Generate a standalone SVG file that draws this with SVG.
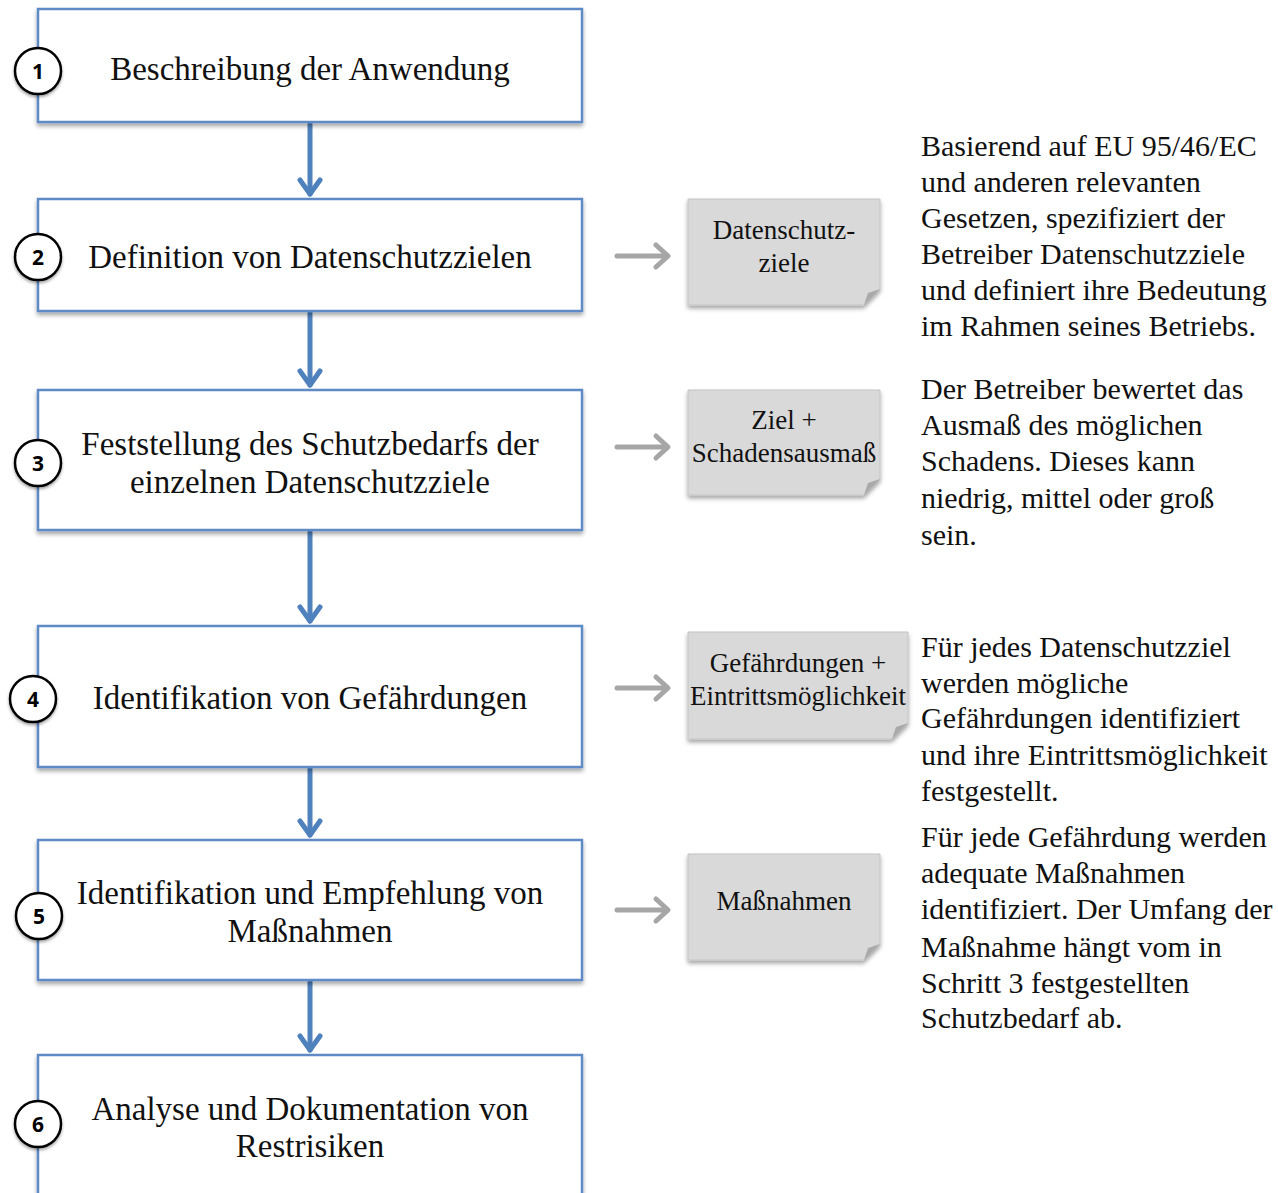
<svg xmlns="http://www.w3.org/2000/svg" width="1278" height="1193" viewBox="0 0 1278 1193">
  <defs>
    <filter id="shadow" x="-10%" y="-10%" width="120%" height="130%">
      <feDropShadow dx="0" dy="3" stdDeviation="2" flood-color="#000" flood-opacity="0.35"/>
    </filter>
    <filter id="cshadow" x="-30%" y="-30%" width="160%" height="170%">
      <feDropShadow dx="0" dy="2" stdDeviation="1.5" flood-color="#000" flood-opacity="0.35"/>
    </filter>
  </defs>
  <style>
    .step { fill: #ffffff; stroke: #5f8ac6; stroke-width: 2.5; filter: url(#shadow); }
    .badge { fill: #ffffff; stroke: #000000; stroke-width: 2.5; filter: url(#cshadow); }
    .num { font-family: "Open Sans", "Liberation Sans", sans-serif; font-weight: bold; font-size: 21px; fill: #000; text-anchor: middle; }
    .title { font-family: "Liberation Serif", "Times New Roman", serif; font-size: 33px; fill: #111; text-anchor: middle; }
    .note { fill: #d9d9d9; stroke: #c4c4c4; stroke-width: 1; filter: url(#shadow); }
    .fold { fill: #a9a9a9; }
    .ntext { font-family: "Liberation Serif", "Times New Roman", serif; font-size: 27px; fill: #111; text-anchor: middle; }
    .desc { font-family: "Liberation Serif", "Times New Roman", serif; font-size: 30px; fill: #111; }
    .flow { fill: none; stroke: #4f81bd; stroke-width: 5; stroke-linecap: round; stroke-linejoin: round; }
    .side { fill: none; stroke: #a6a6a6; stroke-width: 5; stroke-linecap: round; stroke-linejoin: round; }
  </style>

  <rect width="1278" height="1193" fill="#ffffff"/>

  <!-- flow connectors between steps -->
  <g id="connectors">
    <line class="flow" x1="310" y1="124" x2="310" y2="194"/>
    <polyline class="flow" points="300,180 310,194 320,180"/>
    <line class="flow" x1="310" y1="313" x2="310" y2="385"/>
    <polyline class="flow" points="300,371 310,385 320,371"/>
    <line class="flow" x1="310" y1="532" x2="310" y2="621"/>
    <polyline class="flow" points="300,607 310,621 320,607"/>
    <line class="flow" x1="310" y1="769" x2="310" y2="835"/>
    <polyline class="flow" points="300,821 310,835 320,821"/>
    <line class="flow" x1="310" y1="982" x2="310" y2="1050"/>
    <polyline class="flow" points="300,1036 310,1050 320,1036"/>

    <line class="side" x1="617" y1="256" x2="667" y2="256"/>
    <polyline class="side" points="656,245 668,256 656,267"/>
    <line class="side" x1="617" y1="447" x2="667" y2="447"/>
    <polyline class="side" points="656,436 668,447 656,458"/>
    <line class="side" x1="617" y1="688" x2="667" y2="688"/>
    <polyline class="side" points="656,677 668,688 656,699"/>
    <line class="side" x1="617" y1="910" x2="667" y2="910"/>
    <polyline class="side" points="656,899 668,910 656,921"/>
  </g>

  <!-- step 1 -->
  <g id="step1">
    <rect class="step" x="38" y="9" width="544" height="113"/>
    <circle class="badge" cx="38" cy="71" r="23"/>
    <text class="num" x="38" y="79">1</text>
    <text class="title" x="310" y="80">Beschreibung der Anwendung</text>
  </g>

  <!-- step 2 -->
  <g id="step2">
    <rect class="step" x="38" y="199" width="544" height="112"/>
    <circle class="badge" cx="38" cy="257" r="23"/>
    <text class="num" x="38" y="265">2</text>
    <text class="title" x="310" y="268">Definition von Datenschutzzielen</text>
  </g>

  <!-- step 3 -->
  <g id="step3">
    <rect class="step" x="38" y="390" width="544" height="140"/>
    <circle class="badge" cx="38" cy="463" r="23"/>
    <text class="num" x="38" y="471">3</text>
    <text class="title" x="310" y="455">Feststellung des Schutzbedarfs der</text>
    <text class="title" x="310" y="493">einzelnen Datenschutzziele</text>
  </g>

  <!-- step 4 -->
  <g id="step4">
    <rect class="step" x="38" y="626" width="544" height="141"/>
    <circle class="badge" cx="33" cy="699" r="23"/>
    <text class="num" x="33" y="707">4</text>
    <text class="title" x="310" y="709">Identifikation von Gefährdungen</text>
  </g>

  <!-- step 5 -->
  <g id="step5">
    <rect class="step" x="38" y="840" width="544" height="140"/>
    <circle class="badge" cx="39" cy="916" r="23"/>
    <text class="num" x="39" y="924">5</text>
    <text class="title" x="310" y="904">Identifikation und Empfehlung von</text>
    <text class="title" x="310" y="942">Maßnahmen</text>
  </g>

  <!-- step 6 (runs past the lower edge) -->
  <g id="step6">
    <rect class="step" x="38" y="1055" width="544" height="160"/>
    <circle class="badge" cx="38" cy="1124" r="23"/>
    <text class="num" x="38" y="1132">6</text>
    <text class="title" x="310" y="1120">Analyse und Dokumentation von</text>
    <text class="title" x="310" y="1157">Restrisiken</text>
  </g>

  <!-- result notes -->
  <g id="note1">
    <path class="note" d="M688,199 H880 V289 L864,305 H688 Z"/>
    <path class="fold" d="M880,289 L864,305 L868,293 Z"/>
    <text class="ntext" x="784" y="239">Datenschutz-</text>
    <text class="ntext" x="784" y="272">ziele</text>
  </g>
  <g id="note2">
    <path class="note" d="M688,390 H880 V479 L864,495 H688 Z"/>
    <path class="fold" d="M880,479 L864,495 L868,483 Z"/>
    <text class="ntext" x="784" y="429">Ziel +</text>
    <text class="ntext" x="784" y="462">Schadensausmaß</text>
  </g>
  <g id="note3">
    <path class="note" d="M688,632 H908 V723 L892,739 H688 Z"/>
    <path class="fold" d="M908,723 L892,739 L896,727 Z"/>
    <text class="ntext" x="798" y="672">Gefährdungen +</text>
    <text class="ntext" x="798" y="705">Eintrittsmöglichkeit</text>
  </g>
  <g id="note4">
    <path class="note" d="M688,854 H880 V944 L864,960 H688 Z"/>
    <path class="fold" d="M880,944 L864,960 L868,948 Z"/>
    <text class="ntext" x="784" y="910">Maßnahmen</text>
  </g>

  <!-- explanations -->
  <g id="desc1" class="desc">
    <text x="921" y="156">Basierend auf EU 95/46/EC</text>
    <text x="921" y="192">und anderen relevanten</text>
    <text x="921" y="228">Gesetzen, spezifiziert der</text>
    <text x="921" y="264">Betreiber Datenschutzziele</text>
    <text x="921" y="300">und definiert ihre Bedeutung</text>
    <text x="921" y="336">im Rahmen seines Betriebs.</text>
  </g>
  <g id="desc2" class="desc">
    <text x="921" y="399">Der Betreiber bewertet das</text>
    <text x="921" y="435">Ausmaß des möglichen</text>
    <text x="921" y="471">Schadens. Dieses kann</text>
    <text x="921" y="508">niedrig, mittel oder groß</text>
    <text x="921" y="545">sein.</text>
  </g>
  <g id="desc3" class="desc">
    <text x="921" y="657">Für jedes Datenschutzziel</text>
    <text x="921" y="693">werden mögliche</text>
    <text x="921" y="728">Gefährdungen identifiziert</text>
    <text x="921" y="765">und ihre Eintrittsmöglichkeit</text>
    <text x="921" y="801">festgestellt.</text>
  </g>
  <g id="desc4" class="desc">
    <text x="921" y="847">Für jede Gefährdung werden</text>
    <text x="921" y="883">adequate Maßnahmen</text>
    <text x="921" y="919">identifiziert. Der Umfang der</text>
    <text x="921" y="957">Maßnahme hängt vom in</text>
    <text x="921" y="993">Schritt 3 festgestellten</text>
    <text x="921" y="1028">Schutzbedarf ab.</text>
  </g>
</svg>
